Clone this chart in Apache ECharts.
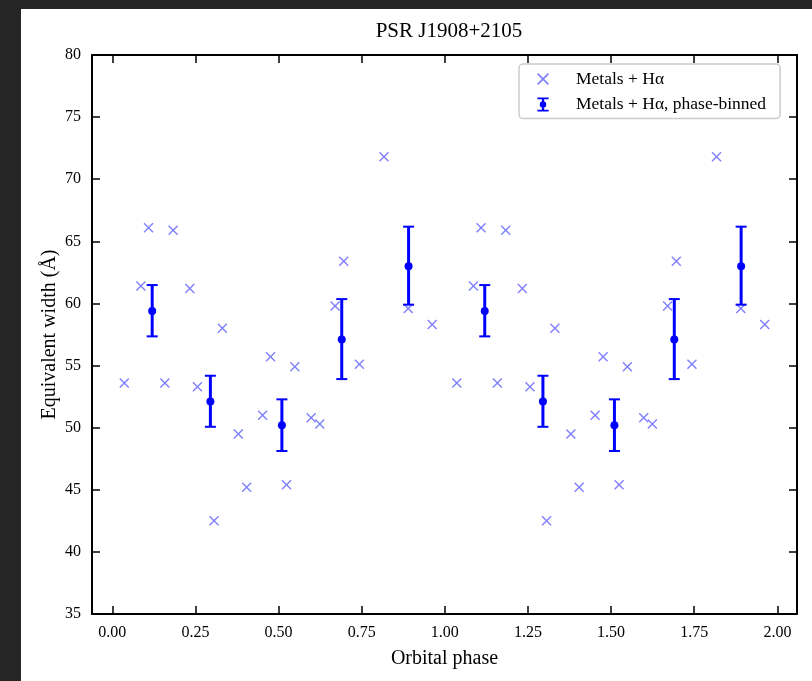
<!DOCTYPE html>
<html>
<head>
<meta charset="utf-8">
<script src="https://cdn.jsdelivr.net/npm/echarts@6/dist/echarts.min.js"></script>
<style>
  html, body { margin: 0; padding: 0; background: #ffffff; }
  #wrap { position: relative; width: 812px; height: 681px; overflow: hidden; background: #ffffff; }
  #chart { position: absolute; left: 0; top: 0; width: 812px; height: 681px; }
  .edge { position: absolute; background: #262626; pointer-events: none; }
</style>
</head>
<body>
<div id="wrap">
  <div id="chart"></div>
  <div class="edge" style="left:0;top:0;width:21px;height:681px;"></div>
  <div class="edge" style="left:0;top:0;width:812px;height:9px;"></div>
</div>
<script>
// ---- Data (one orbital cycle; the figure shows it twice, at phase offsets 0 and 1) ----
const cycleOffsets = [0, 1];

// Individual measurements: Metals + Hα
const rawPhase = [0.036, 0.086, 0.109, 0.158, 0.183, 0.233, 0.256, 0.306, 0.331, 0.379,
                  0.404, 0.452, 0.476, 0.524, 0.549, 0.598, 0.624, 0.670, 0.696, 0.743,
                  0.817, 0.890, 0.962];
const rawWidth = [53.6, 61.4, 66.1, 53.6, 65.9, 61.2, 53.3, 42.5, 58.0, 49.5,
                  45.2, 51.0, 55.7, 45.4, 54.9, 50.8, 50.3, 59.8, 63.4, 55.1,
                  71.8, 59.6, 58.3];

// Phase-binned values with error bars
const binPhase = [0.120, 0.295, 0.510, 0.690, 0.891];
const binWidth = [59.4, 52.1, 50.2, 57.1, 63.0];
const binLow   = [57.35, 50.07, 48.12, 53.91, 59.90];
const binHigh  = [61.48, 54.18, 52.28, 60.35, 66.18];

// Axis ticks
const xTicks = [0, 0.25, 0.5, 0.75, 1.0, 1.25, 1.5, 1.75, 2.0];
const yTicks = [35, 40, 45, 50, 55, 60, 65, 70, 75, 80];

const titleText = 'PSR J1908+2105';
const xName = 'Orbital phase';
const yName = 'Equivalent width (Å)';
const rawName = 'Metals + Hα';
const binName = 'Metals + Hα, phase-binned';

// ---- Build series data ----
const rawData = [];
cycleOffsets.forEach(function (off) {
  rawPhase.forEach(function (p, i) { rawData.push([p + off, rawWidth[i]]); });
});
const binData = [];
cycleOffsets.forEach(function (off) {
  binPhase.forEach(function (p, i) { binData.push([p + off, binWidth[i], binLow[i], binHigh[i]]); });
});

const FONT = '"Liberation Serif", "DejaVu Serif", serif';
const crossPath = 'path://M0,1 L1,0 L5,4 L9,0 L10,1 L6,5 L10,9 L9,10 L5,6 L1,10 L0,9 L4,5 Z';
const errIcon = 'path://M1,0 H9 V1.3 H5.8 V8.7 H9 V10 H1 V8.7 H4.2 V1.3 H1 Z M7.3,5 A2.3,2.3 0 1 1 2.7,5 A2.3,2.3 0 1 1 7.3,5 Z';

const chart = echarts.init(document.getElementById('chart'), null, { renderer: 'canvas' });

const tickStyle = { show: true, inside: true, length: 8, lineStyle: { color: '#000', width: 1.5 } };
const lineStyle = { show: true, onZero: false, lineStyle: { color: '#000', width: 2 } };

const option = {
  backgroundColor: '#ffffff',
  animation: false,
  title: {
    text: titleText,
    left: 444, top: 16, textAlign: 'center',
    textStyle: { fontFamily: FONT, fontSize: 21, fontWeight: 'normal', color: '#000' }
  },
  grid: { left: 92, top: 55, right: 15, bottom: 67, containLabel: false },
  legend: {
    orient: 'vertical',
    left: 519, top: 64,
    padding: [6, 14, 5, 18],
    itemGap: 7.5,
    itemWidth: 12, itemHeight: 14,
    backgroundColor: '#ffffff',
    borderColor: '#cccccc', borderWidth: 1.5, borderRadius: 4,
    textStyle: { fontFamily: FONT, fontSize: 17.5, color: '#000', padding: [0, 0, 0, 22] },
    data: [
      { name: rawName, icon: crossPath },
      { name: binName, icon: errIcon }
    ]
  },
  xAxis: [
    {
      type: 'value', min: -0.061, max: 2.059, position: 'bottom',
      name: xName, nameLocation: 'middle', nameGap: 35, nameMoveOverlap: false,
      nameTextStyle: { fontFamily: FONT, fontSize: 20, color: '#000' },
      axisLine: lineStyle,
      axisTick: Object.assign({ customValues: xTicks }, tickStyle),
      axisLabel: {
        customValues: xTicks, margin: 11,
        fontFamily: FONT, fontSize: 16, color: '#000',
        formatter: function (v) { return v.toFixed(2); }
      },
      splitLine: { show: false }
    },
    {
      type: 'value', min: -0.061, max: 2.059, position: 'top',
      axisLine: lineStyle,
      axisTick: Object.assign({ customValues: xTicks }, tickStyle),
      axisLabel: { show: false },
      splitLine: { show: false }
    }
  ],
  yAxis: [
    {
      type: 'value', min: 35, max: 80, interval: 5, position: 'left',
      name: yName, nameLocation: 'middle', nameGap: 32, nameRotate: 90, nameMoveOverlap: false,
      nameTextStyle: { fontFamily: FONT, fontSize: 20, color: '#000' },
      axisLine: lineStyle,
      axisTick: tickStyle,
      axisLabel: { margin: 11, fontFamily: FONT, fontSize: 16, color: '#000',
                   customValues: yTicks },
      splitLine: { show: false }
    },
    {
      type: 'value', min: 35, max: 80, interval: 5, position: 'right',
      axisLine: lineStyle,
      axisTick: tickStyle,
      axisLabel: { show: false },
      splitLine: { show: false }
    }
  ],
  series: [
    {
      name: rawName,
      type: 'scatter',
      xAxisIndex: 0, yAxisIndex: 0,
      symbol: crossPath,
      symbolSize: 10,
      itemStyle: { color: '#8080ff', opacity: 1 },
      data: rawData,
      z: 2
    },
    {
      name: binName,
      type: 'custom',
      xAxisIndex: 0, yAxisIndex: 0,
      itemStyle: { color: '#0000ff' },
      encode: { x: 0, y: [1, 2, 3] },
      renderItem: function (params, api) {
        const x = api.value(0);
        const c = api.coord([x, api.value(1)]);
        const lo = api.coord([x, api.value(2)]);
        const hi = api.coord([x, api.value(3)]);
        const capHalf = 5.5;
        const col = '#0000ff';
        return {
          type: 'group',
          children: [
            { type: 'line', shape: { x1: c[0], y1: lo[1], x2: c[0], y2: hi[1] },
              style: { stroke: col, lineWidth: 3 } },
            { type: 'line', shape: { x1: c[0] - capHalf, y1: lo[1], x2: c[0] + capHalf, y2: lo[1] },
              style: { stroke: col, lineWidth: 2 } },
            { type: 'line', shape: { x1: c[0] - capHalf, y1: hi[1], x2: c[0] + capHalf, y2: hi[1] },
              style: { stroke: col, lineWidth: 2 } },
            { type: 'circle', shape: { cx: c[0], cy: c[1], r: 4 },
              style: { fill: col } }
          ]
        };
      },
      data: binData,
      z: 3
    }
  ]
};

chart.setOption(option);
</script>
</body>
</html>
